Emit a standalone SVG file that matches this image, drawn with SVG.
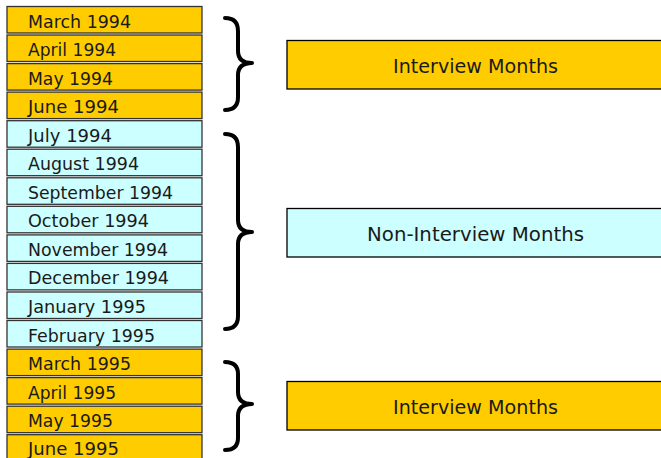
<svg xmlns="http://www.w3.org/2000/svg" width="661" height="458" viewBox="0 0 661 458">
  <style>
    .month rect { stroke: #333; stroke-width: 1.3; }
    .iv rect { fill: #FFCC00; }
    .niv rect { fill: #CCFFFF; }
    .month text { font-family: "DejaVu Sans", sans-serif; font-size: 18px; fill: #1a1a1a; }
    .label rect { stroke: #000; stroke-width: 1.3; }
    .label text { font-family: "DejaVu Sans", sans-serif; font-size: 19px; fill: #1a1a1a; text-anchor: middle; }
    .brace { fill: none; stroke: #000; stroke-width: 4; stroke-linecap: round; stroke-linejoin: round; }
  </style>
  <rect width="661" height="458" fill="#fff"/>

  <!-- month column -->
  <g id="m-1994-03" class="month iv"><rect x="7" y="6.5" width="195" height="26.5"/><text x="28" y="27.5" textLength="103" lengthAdjust="spacingAndGlyphs">March 1994</text></g>
  <g id="m-1994-04" class="month iv"><rect x="7" y="35" width="195" height="26.5"/><text x="28" y="56" textLength="88" lengthAdjust="spacingAndGlyphs">April 1994</text></g>
  <g id="m-1994-05" class="month iv"><rect x="7" y="63.6" width="195" height="26.5"/><text x="28" y="84.6" textLength="85" lengthAdjust="spacingAndGlyphs">May 1994</text></g>
  <g id="m-1994-06" class="month iv"><rect x="7" y="92.1" width="195" height="26.5"/><text x="28" y="113.1" textLength="91" lengthAdjust="spacingAndGlyphs">June 1994</text></g>
  <g id="m-1994-07" class="month niv"><rect x="7" y="120.7" width="195" height="26.5"/><text x="28" y="141.7" textLength="84" lengthAdjust="spacingAndGlyphs">July 1994</text></g>
  <g id="m-1994-08" class="month niv"><rect x="7" y="149.2" width="195" height="26.5"/><text x="28" y="170.2" textLength="111" lengthAdjust="spacingAndGlyphs">August 1994</text></g>
  <g id="m-1994-09" class="month niv"><rect x="7" y="177.8" width="195" height="26.5"/><text x="28" y="198.8" textLength="145" lengthAdjust="spacingAndGlyphs">September 1994</text></g>
  <g id="m-1994-10" class="month niv"><rect x="7" y="206.3" width="195" height="26.5"/><text x="28" y="227.3" textLength="121" lengthAdjust="spacingAndGlyphs">October 1994</text></g>
  <g id="m-1994-11" class="month niv"><rect x="7" y="234.9" width="195" height="26.5"/><text x="28" y="255.9" textLength="140" lengthAdjust="spacingAndGlyphs">November 1994</text></g>
  <g id="m-1994-12" class="month niv"><rect x="7" y="263.4" width="195" height="26.5"/><text x="28" y="284.4" textLength="141" lengthAdjust="spacingAndGlyphs">December 1994</text></g>
  <g id="m-1995-01" class="month niv"><rect x="7" y="292" width="195" height="26.5"/><text x="28" y="313" textLength="118" lengthAdjust="spacingAndGlyphs">January 1995</text></g>
  <g id="m-1995-02" class="month niv"><rect x="7" y="320.5" width="195" height="26.5"/><text x="28" y="341.5" textLength="127" lengthAdjust="spacingAndGlyphs">February 1995</text></g>
  <g id="m-1995-03" class="month iv"><rect x="7" y="349.1" width="195" height="26.5"/><text x="28" y="370.1" textLength="103" lengthAdjust="spacingAndGlyphs">March 1995</text></g>
  <g id="m-1995-04" class="month iv"><rect x="7" y="377.6" width="195" height="26.5"/><text x="28" y="398.6" textLength="88" lengthAdjust="spacingAndGlyphs">April 1995</text></g>
  <g id="m-1995-05" class="month iv"><rect x="7" y="406.2" width="195" height="26.5"/><text x="28" y="427.2" textLength="85" lengthAdjust="spacingAndGlyphs">May 1995</text></g>
  <g id="m-1995-06" class="month iv"><rect x="7" y="434.7" width="195" height="26.5"/><text x="28" y="455" textLength="91" lengthAdjust="spacingAndGlyphs">June 1995</text></g>

  <!-- braces grouping the months -->
  <g id="connectors">
    <path class="brace" d="M225,18 Q238,18 238,31 L238,51 Q238,63 252,63 Q238,63 238,75 L238,97 Q238,110 225,110"/>
    <path class="brace" d="M225,134 Q238,134 238,147 L238,220 Q238,232 252,232 Q238,232 238,244 L238,316 Q238,329 225,329"/>
    <path class="brace" d="M225,362 Q238,362 238,374 L238,392 Q238,404 252,404 Q238,404 238,416 L238,438 Q238,450 225,450"/>
  </g>

  <!-- period labels -->
  <g id="label-interview-1" class="label iv"><rect x="287" y="40.5" width="380" height="48.5"/><text x="475.5" y="73" textLength="165" lengthAdjust="spacingAndGlyphs">Interview Months</text></g>
  <g id="label-non-interview" class="label niv"><rect x="287" y="208.5" width="380" height="48.5"/><text x="475.5" y="241" textLength="217" lengthAdjust="spacingAndGlyphs">Non-Interview Months</text></g>
  <g id="label-interview-2" class="label iv"><rect x="287" y="381.5" width="380" height="48.5"/><text x="475.5" y="414" textLength="165" lengthAdjust="spacingAndGlyphs">Interview Months</text></g>
</svg>
